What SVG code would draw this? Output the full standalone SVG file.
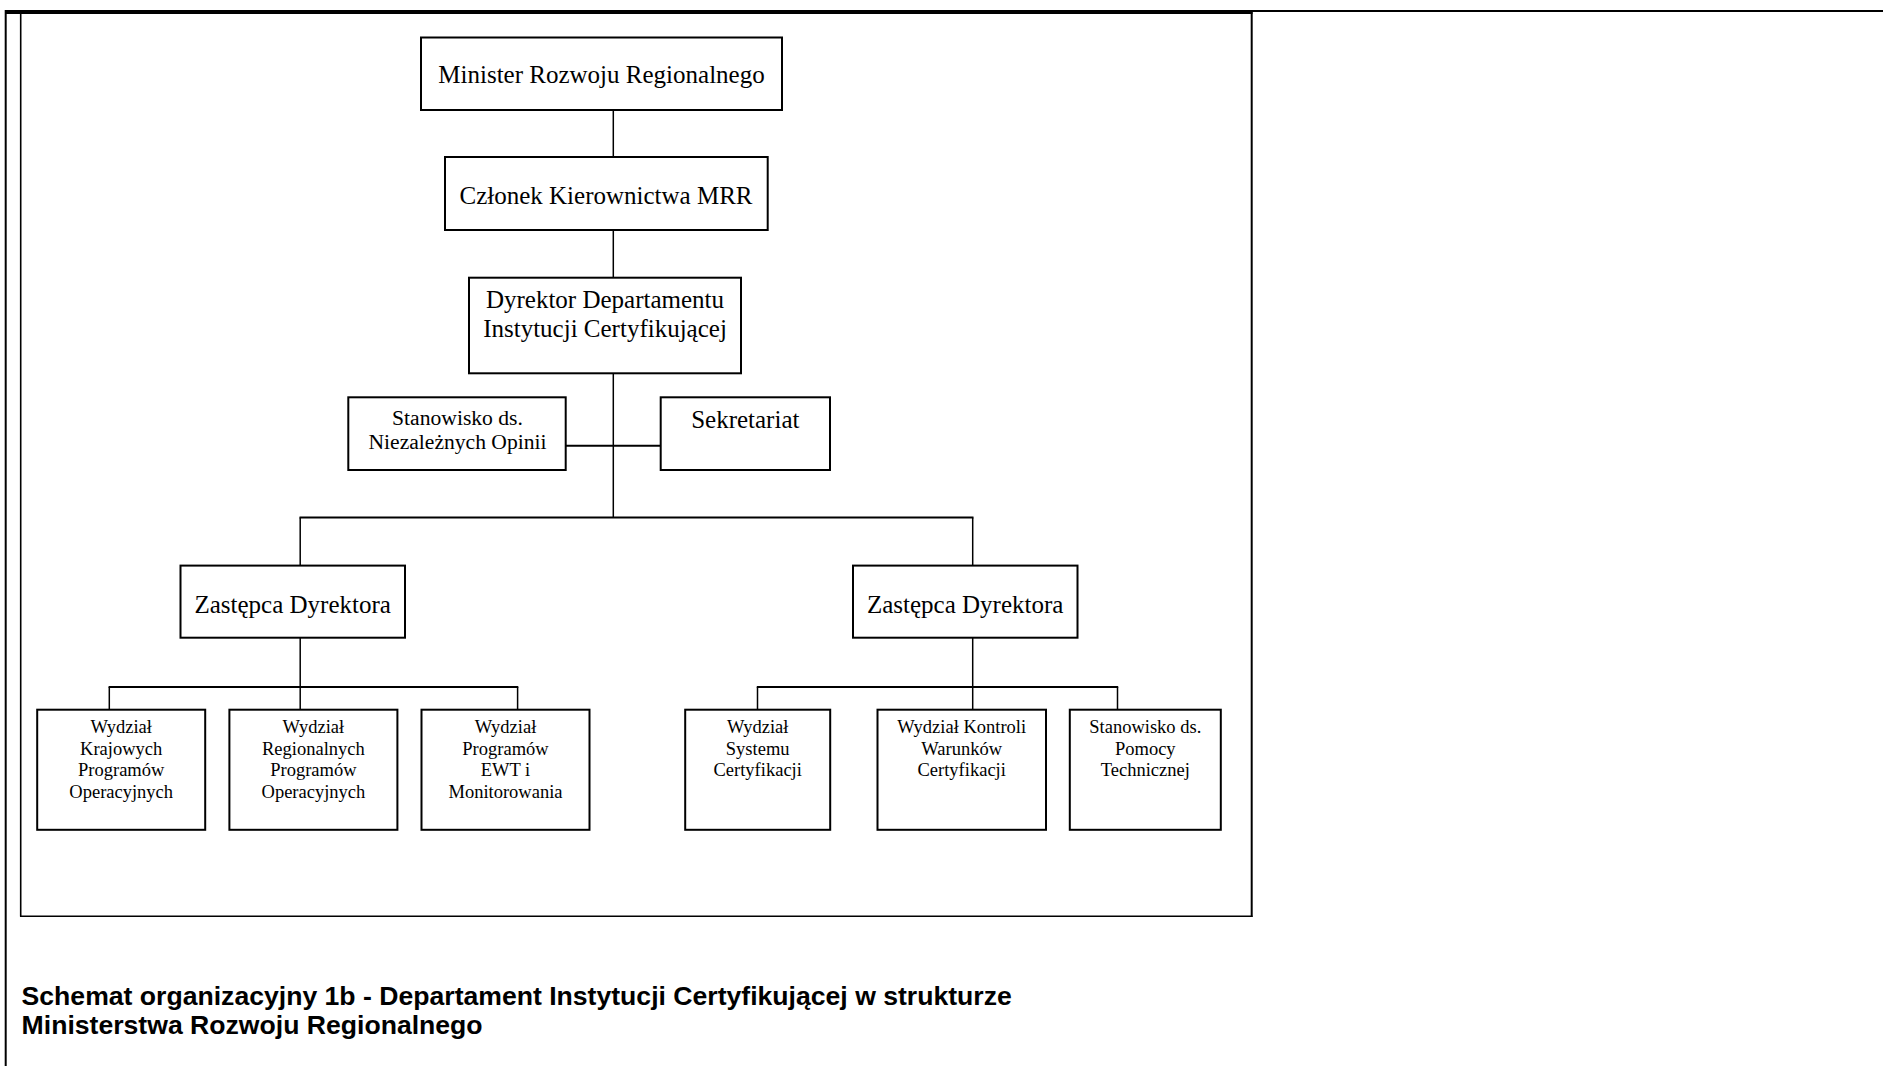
<svg xmlns="http://www.w3.org/2000/svg" width="1883" height="1066" viewBox="0 0 1883 1066">
<style>
.box{fill:#fff;stroke:#000;stroke-width:2}
.t{font-family:"Liberation Serif","Times New Roman",serif;fill:#000;text-anchor:middle}
.big{font-size:25px}
.mid{font-size:21.6px}
.sm{font-size:18.5px}
.con line{stroke:#000;stroke-width:1.5}
.title{font-family:"Liberation Sans",Arial,sans-serif;font-weight:bold;font-size:26.6px;fill:#000}
</style>
<rect width="1883" height="1066" fill="#fff"/>
<g id="frame">
<line x1="5.5" y1="12" x2="1252.5" y2="12" stroke="#000" stroke-width="4"/>
<line x1="1252" y1="11" x2="1883" y2="11" stroke="#000" stroke-width="2"/>
<line x1="5.7" y1="10" x2="5.7" y2="1066" stroke="#000" stroke-width="2"/>
<line x1="20.7" y1="12" x2="20.7" y2="916.5" stroke="#000" stroke-width="1.6"/>
<line x1="1251.7" y1="12" x2="1251.7" y2="917" stroke="#000" stroke-width="2"/>
<line x1="20" y1="916.3" x2="1252.5" y2="916.3" stroke="#000" stroke-width="1.5"/>
</g>
<g class="con" id="connectors">
<line x1="613.3" y1="110" x2="613.3" y2="157"/>
<line x1="613.3" y1="230" x2="613.3" y2="277.7"/>
<line x1="613.3" y1="373.3" x2="613.3" y2="517.6"/>
<line x1="565.7" y1="445.7" x2="660.7" y2="445.7" style="stroke-width:2"/>
<line x1="299.5" y1="517.6" x2="973.5" y2="517.6" style="stroke-width:2"/>
<line x1="300.2" y1="517.6" x2="300.2" y2="565.6"/>
<line x1="972.7" y1="517.6" x2="972.7" y2="565.6"/>
<line x1="300.2" y1="637.7" x2="300.2" y2="709.7"/>
<line x1="972.7" y1="637.7" x2="972.7" y2="709.7"/>
<line x1="108.6" y1="687" x2="518.3" y2="687" style="stroke-width:2"/>
<line x1="109.3" y1="687" x2="109.3" y2="709.7"/>
<line x1="517.6" y1="687" x2="517.6" y2="709.7"/>
<line x1="756.8" y1="687" x2="1118.2" y2="687" style="stroke-width:2"/>
<line x1="757.5" y1="687" x2="757.5" y2="709.7"/>
<line x1="1117.5" y1="687" x2="1117.5" y2="709.7"/>
</g>
<g id="minister">
<rect class="box" x="421" y="37.5" width="361" height="72.5"/>
<text class="t big" x="601.5" y="83.3">Minister Rozwoju Regionalnego</text>
</g>
<g id="czlonek">
<rect class="box" x="445" y="157" width="322.7" height="73"/>
<text class="t big" x="606" y="204.3">Członek Kierownictwa MRR</text>
</g>
<g id="dyrektor">
<rect class="box" x="469" y="277.7" width="272" height="95.6"/>
<text class="t big" x="605" y="308.3">Dyrektor Departamentu</text>
<text class="t big" x="605" y="337.3">Instytucji Certyfikującej</text>
</g>
<g id="stanowisko-opinii">
<rect class="box" x="348.3" y="397.3" width="217.4" height="72.7"/>
<text class="t mid" x="457.5" y="425">Stanowisko ds.</text>
<text class="t mid" x="457.5" y="449.3">Niezależnych Opinii</text>
</g>
<g id="sekretariat">
<rect class="box" x="660.7" y="397.3" width="169.3" height="72.7"/>
<text class="t big" x="745.3" y="428.3">Sekretariat</text>
</g>
<g id="zastepca-1">
<rect class="box" x="180.5" y="565.6" width="224.5" height="72.1"/>
<text class="t big" x="292.7" y="612.5">Zastępca Dyrektora</text>
</g>
<g id="zastepca-2">
<rect class="box" x="853" y="565.6" width="224.5" height="72.1"/>
<text class="t big" x="965.2" y="612.5">Zastępca Dyrektora</text>
</g>
<g id="wydzial-krajowych">
<rect class="box" x="37.2" y="709.7" width="168" height="120.1"/>
<text class="t sm" x="121.2" y="733">Wydział</text>
<text class="t sm" x="121.2" y="754.6">Krajowych</text>
<text class="t sm" x="121.2" y="776.2">Programów</text>
<text class="t sm" x="121.2" y="797.8">Operacyjnych</text>
</g>
<g id="wydzial-regionalnych">
<rect class="box" x="229.4" y="709.7" width="168" height="120.1"/>
<text class="t sm" x="313.4" y="733">Wydział</text>
<text class="t sm" x="313.4" y="754.6">Regionalnych</text>
<text class="t sm" x="313.4" y="776.2">Programów</text>
<text class="t sm" x="313.4" y="797.8">Operacyjnych</text>
</g>
<g id="wydzial-ewt">
<rect class="box" x="421.5" y="709.7" width="168" height="120.1"/>
<text class="t sm" x="505.5" y="733">Wydział</text>
<text class="t sm" x="505.5" y="754.6">Programów</text>
<text class="t sm" x="505.5" y="776.2">EWT i</text>
<text class="t sm" x="505.5" y="797.8">Monitorowania</text>
</g>
<g id="wydzial-systemu">
<rect class="box" x="685.2" y="709.7" width="145" height="120.1"/>
<text class="t sm" x="757.7" y="733">Wydział</text>
<text class="t sm" x="757.7" y="754.6">Systemu</text>
<text class="t sm" x="757.7" y="776.2">Certyfikacji</text>
</g>
<g id="wydzial-kontroli">
<rect class="box" x="877.5" y="709.7" width="168.5" height="120.1"/>
<text class="t sm" x="961.7" y="733">Wydział Kontroli</text>
<text class="t sm" x="961.7" y="754.6">Warunków</text>
<text class="t sm" x="961.7" y="776.2">Certyfikacji</text>
</g>
<g id="stanowisko-pomocy">
<rect class="box" x="1069.8" y="709.7" width="151" height="120.1"/>
<text class="t sm" x="1145.3" y="733">Stanowisko ds.</text>
<text class="t sm" x="1145.3" y="754.6">Pomocy</text>
<text class="t sm" x="1145.3" y="776.2">Technicznej</text>
</g>
<g id="caption">
<text class="title" x="21.6" y="1005">Schemat organizacyjny 1b - Departament Instytucji Certyfikującej w strukturze</text>
<text class="title" x="21.6" y="1034">Ministerstwa Rozwoju Regionalnego</text>
</g>
</svg>
